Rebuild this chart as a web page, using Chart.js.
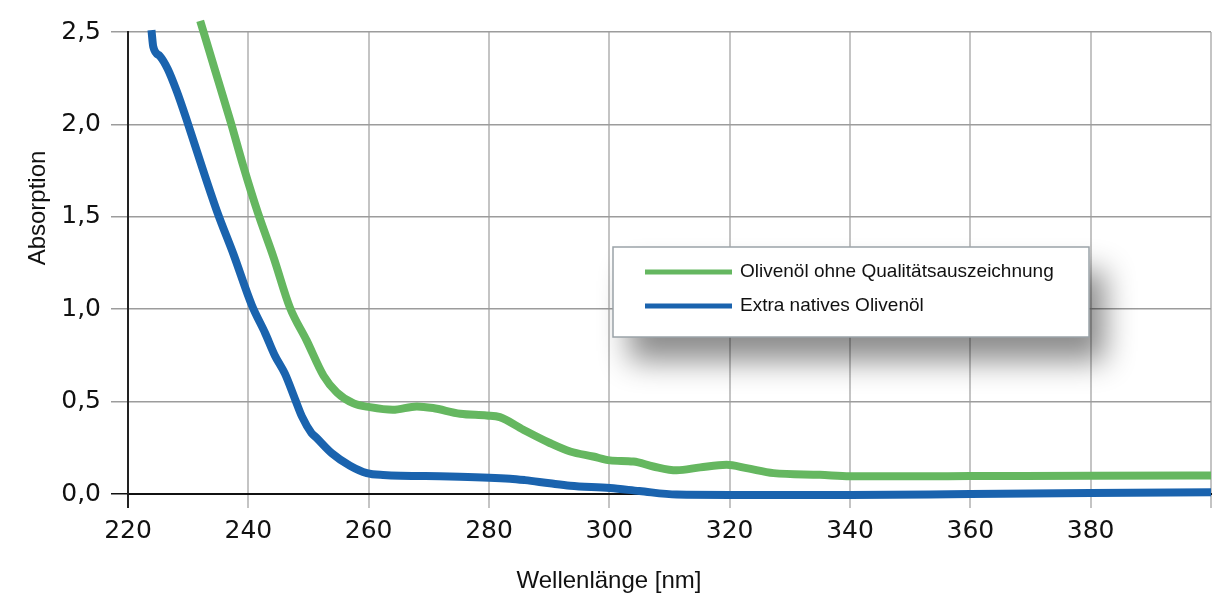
<!DOCTYPE html>
<html><head><meta charset="utf-8">
<script src="https://cdn.jsdelivr.net/npm/chart.js@4.4.1/dist/chart.umd.min.js"></script>
<style>html,body{margin:0;padding:0;background:#fff}#wrap{width:1214px;height:598px;position:relative}</style>
</head><body><div id="wrap"><canvas id="c" width="1214" height="598"></canvas></div>
<script>
// ---- data ----
const seriesLabels = ['Olivenöl ohne Qualitätsauszeichnung', 'Extra natives Olivenöl'];
const xTitle = 'Wellenlänge [nm]';
const yTitle = 'Absorption';
const xTickValues = [220, 240, 260, 280, 300, 320, 340, 360, 380, 400];
const yTickValues = [0, 0.5, 1.0, 1.5, 2.0, 2.5];

const greenWavelength = [232, 234.5, 237, 239.2, 241.6, 244.2, 246.9, 249.7, 252.5, 254.7, 257.5, 260.2, 264, 268, 270.7, 275.2, 279.6, 281.8, 285.7, 290.1, 293.5, 297.3, 300.1, 304, 307.3, 311.2, 315.1, 319.5, 322.8, 327.3, 335, 340, 360, 380, 400];
const greenAbsorption = [2.56, 2.29, 2.02, 1.77, 1.52, 1.28, 1.01, 0.83, 0.64, 0.55, 0.49, 0.47, 0.456, 0.474, 0.465, 0.434, 0.425, 0.416, 0.348, 0.276, 0.23, 0.203, 0.182, 0.176, 0.149, 0.128, 0.144, 0.158, 0.14, 0.113, 0.104, 0.096, 0.097, 0.099, 0.1];

const blueWavelength = [223.9, 224.2, 225.3, 226.6, 228.1, 229.8, 232.4, 234.9, 237.5, 240.6, 242.8, 244.4, 246.1, 247.8, 248.9, 250.5, 251.3, 253.9, 256.9, 259.7, 262.4, 273.5, 283.5, 286, 290.1, 293.5, 300.1, 305, 311.2, 320, 340, 360, 380, 400];
const blueAbsorption = [2.51, 2.42, 2.37, 2.3, 2.18, 2.02, 1.76, 1.52, 1.3, 1.02, 0.87, 0.75, 0.65, 0.51, 0.42, 0.33, 0.305, 0.22, 0.153, 0.113, 0.103, 0.095, 0.083, 0.075, 0.058, 0.045, 0.032, 0.016, -0.003, -0.005, -0.005, 0.0, 0.005, 0.01];

const seriesColors = ['#65b760', '#1a63ae'];

// ---- build ----
const toPoints = (xs, ys) => xs.map((x, i) => ({ x: x, y: ys[i] }));
const FONT = "'Liberation Sans', Arial, sans-serif";
const TICKFONT = "'DejaVu Sans', 'Liberation Sans', sans-serif";

const overlay = {
  id: 'overlay',
  afterDraw(chart) {
    const ctx = chart.ctx;
    ctx.save();
    // axis titles
    ctx.fillStyle = '#111';
    ctx.font = '24px ' + FONT;
    ctx.textAlign = 'center';
    ctx.textBaseline = 'middle';
    ctx.fillText(xTitle, 609, 581);
    ctx.save();
    ctx.translate(38, 208);
    ctx.rotate(-Math.PI / 2);
    ctx.fillText(yTitle, 0, 0);
    ctx.restore();
    // legend box with shadow
    const bx = 613, by = 247, bw = 476, bh = 90;
    ctx.save();
    ctx.shadowColor = 'rgba(0,0,0,0.45)';
    ctx.shadowBlur = 30;
    ctx.shadowOffsetX = 16;
    ctx.shadowOffsetY = 24;
    ctx.fillStyle = '#fff';
    ctx.fillRect(bx, by, bw, bh);
    ctx.restore();
    ctx.strokeStyle = '#9aa3a8';
    ctx.lineWidth = 1.5;
    ctx.strokeRect(bx, by, bw, bh);
    const rows = [272, 306];
    chart.data.datasets.forEach((ds, i) => {
      ctx.strokeStyle = ds.borderColor;
      ctx.lineWidth = 5;
      ctx.beginPath();
      ctx.moveTo(645, rows[i]);
      ctx.lineTo(732, rows[i]);
      ctx.stroke();
      ctx.fillStyle = '#111';
      ctx.font = '19px ' + FONT;
      ctx.textAlign = 'left';
      ctx.textBaseline = 'middle';
      ctx.fillText(ds.label, 740, rows[i]);
    });
    ctx.restore();
  }
};

new Chart(document.getElementById('c'), {
  type: 'line',
  data: {
    datasets: [
      { label: seriesLabels[0], data: toPoints(greenWavelength, greenAbsorption), borderColor: seriesColors[0], backgroundColor: seriesColors[0], borderWidth: 8, pointRadius: 0, cubicInterpolationMode: 'monotone', clip: false, fill: false },
      { label: seriesLabels[1], data: toPoints(blueWavelength, blueAbsorption), borderColor: seriesColors[1], backgroundColor: seriesColors[1], borderWidth: 8, pointRadius: 0, cubicInterpolationMode: 'monotone', clip: false, fill: false }
    ]
  },
  options: {
    responsive: false,
    animation: false,
    devicePixelRatio: 1,
    layout: { padding: { left: 10, top: 32, right: 3, bottom: 0 } },
    plugins: { legend: { display: false }, tooltip: { enabled: false } },
    scales: {
      x: {
        type: 'linear',
        min: xTickValues[0],
        max: xTickValues[xTickValues.length - 1],
        afterBuildTicks: (s) => { s.ticks = xTickValues.map(v => ({ value: v })); },
        afterFit: (s) => { s.height = 104; s.paddingRight = 0; s.paddingLeft = 0; },
        ticks: {
          callback: (v) => v === xTickValues[xTickValues.length - 1] ? '' : String(v),
          font: { family: TICKFONT, size: 25 },
          color: '#111',
          padding: 8,
          maxRotation: 0
        },
        grid: {
          color: (c) => (c.tick && c.tick.value === xTickValues[0]) ? '#222' : '#c4c4c4',
          lineWidth: 2,
          tickLength: 14
        },
        border: { display: true, color: '#111', width: 2 }
      },
      y: {
        min: yTickValues[0],
        max: yTickValues[yTickValues.length - 1],
        afterBuildTicks: (s) => { s.ticks = yTickValues.map(v => ({ value: v })); },
        afterFit: (s) => { s.width = 118; },
        ticks: {
          callback: (v) => Number(v).toFixed(1).replace('.', ','),
          font: { family: TICKFONT, size: 25 },
          color: '#111',
          padding: 10
        },
        grid: {
          color: (c) => (c.tick && c.tick.value === 0) ? '#111' : '#9c9c9c',
          lineWidth: 1.5,
          tickLength: 17
        },
        border: { display: true, color: '#222', width: 2 }
      }
    }
  },
  plugins: [overlay]
});
</script>
</body></html>
